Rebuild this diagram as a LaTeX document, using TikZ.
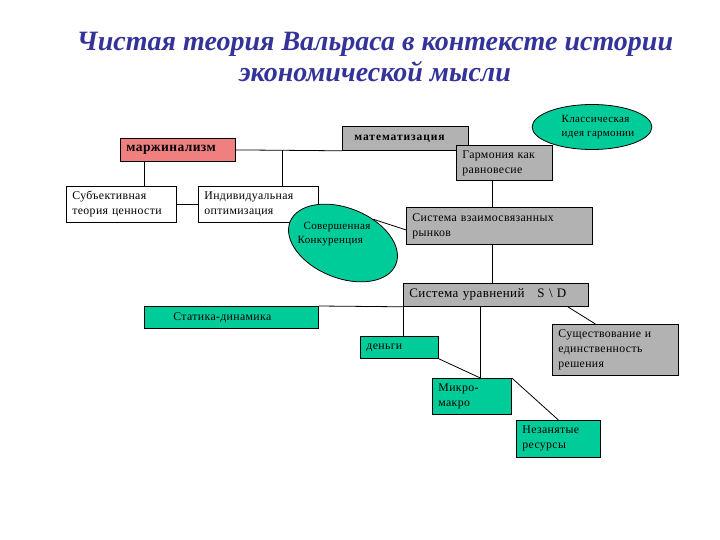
\documentclass[tikz,border=0pt]{standalone}
\usepackage{fontspec}
\setmainfont{Liberation Serif}
\usetikzlibrary{shapes.geometric,calc}
\definecolor{titleblue}{HTML}{333399}
\definecolor{boxgray}{HTML}{B2B2B2}
\definecolor{boxgreen}{HTML}{00CC99}
\definecolor{boxpink}{HTML}{F08080}
\newfontfamily\boxfont[LetterSpace=3]{Liberation Serif}
\newfontfamily\mathfont[LetterSpace=8]{Liberation Serif}
\tikzset{
  bx/.style={draw=black, line width=0.8pt, rectangle, anchor=north west, inner xsep=6pt, inner ysep=2pt, align=left, font=\boxfont\fontsize{11.8}{15}\selectfont},
  grayb/.style={bx, fill=boxgray},
  greenb/.style={bx, fill=boxgreen},
  whiteb/.style={bx, fill=white},
  ell/.style={draw=black, line width=0.8pt, ellipse, fill=boxgreen, inner sep=0pt, font=\boxfont\fontsize{11}{14}\selectfont, align=left},
  conn/.style={draw=black, line width=0.8pt}
}
\begin{document}
\begin{tikzpicture}[x=1pt,y=-1pt]
\useasboundingbox (0,0) rectangle (720,540);
% title
\node[font=\fontsize{28}{31}\selectfont\bfseries\itshape, text=titleblue, align=center] (title) at (375,57)
  {Чистая теория Вальраса в контексте истории\\экономической мысли};
% boxes
\node[bx, fill=boxpink, minimum width=115pt, minimum height=23pt, text width=103pt, font=\boxfont\fontsize{13.5}{15}\selectfont\bfseries] (marg) at (120,138) {маржинализм};
\node[grayb, minimum width=126pt, minimum height=24pt, text width=114pt, font=\mathfont\fontsize{11.5}{13}\selectfont\bfseries] (math) at (342,126) {\hspace*{6pt}математизация};
\node[grayb, minimum width=96pt, minimum height=35pt, text width=84pt] (harm) at (456,145) {Гармония как\\равновесие};
\node[ell, minimum width=118pt, minimum height=45pt] (klass) at (592,127) {\hspace*{12pt}Классическая\\\hspace*{12pt}идея гармонии};
\node[whiteb, minimum width=110pt, minimum height=36pt, text width=98pt] (subj) at (66,186) {Субъективная\\теория ценности};
\node[whiteb, minimum width=120pt, minimum height=36pt, text width=108pt] (indiv) at (198,186) {Индивидуальная\\оптимизация};
\node[ell, minimum width=114pt, minimum height=70pt, rotate=-22] (sov) at (343,243) {};
\node[font=\boxfont\fontsize{11}{14}\selectfont, align=left] (sovt) at (334,234) {\hspace*{6pt}Совершенная\\Конкуренция};
\node[grayb, minimum width=186pt, minimum height=37pt, text width=174pt] (sysr) at (406,207) {Система взаимосвязанных\\рынков};
\node[grayb, minimum width=185pt, minimum height=23pt, text width=173pt, font=\boxfont\fontsize{13}{15}\selectfont] (sysu) at (403,283) {Система уравнений\hspace{1em}S \textbackslash\ D};
\node[greenb, minimum width=174pt, minimum height=22pt, text width=162pt] (stat) at (144,306) {\hspace*{23pt}Статика-динамика};
\node[greenb, minimum width=78pt, minimum height=22pt, text width=66pt] (den) at (360,336) {деньги};
\node[grayb, minimum width=126pt, minimum height=51pt, text width=114pt] (sush) at (552,324) {Существование и\\единственность\\решения};
\node[greenb, minimum width=79pt, minimum height=36pt, text width=67pt] (mikro) at (432,378) {Микро-\\макро};
\node[greenb, minimum width=84pt, minimum height=37pt, text width=72pt] (nez) at (516,420) {Незанятые\\ресурсы};
% connectors
\draw[conn] (marg.east) -- (math.south west);
\draw[conn] ([xshift=24pt]indiv.north) -- ([xshift=24pt]indiv.north |- marg.east);
\draw[conn] ([xshift=-33.5pt]marg.south) -- ([xshift=-33.5pt]marg.south |- subj.north);
\draw[conn] (subj.east) -- (indiv.west);
\draw[conn] ([xshift=-12pt]harm.south) -- ([xshift=-12pt]harm.south |- sysr.north);
\draw[conn] (sov.60) -- ([yshift=-4pt]sysr.west);
\draw[conn] ([xshift=-12pt]harm.south |- sysr.south) -- ([xshift=-12pt]harm.south |- sysu.north);
\draw[conn] (stat.north east) -- (sysu.south west);
\draw[conn] (sysu.south west) -- (sysu.south west |- den.north);
\coordinate (mtop) at ([xshift=8.5pt]mikro.north);
\draw[conn] (mtop |- sysu.south) -- (mtop);
\draw[conn] (den.south east) -- (mtop);
\draw[conn] (mikro.north east) -- (nez.north);
\draw[conn] ([xshift=-21pt]sysu.south east) -- ([xshift=-20pt]sush.north);
\end{tikzpicture}
\end{document}
